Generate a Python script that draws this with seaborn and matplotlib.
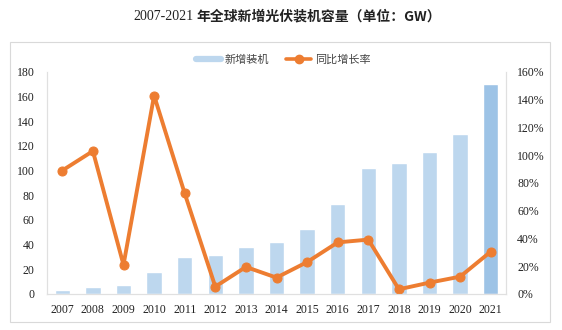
import numpy as np
import pandas as pd
import matplotlib
matplotlib.use("Agg")
import matplotlib.pyplot as plt
from matplotlib.lines import Line2D
from matplotlib.patches import Rectangle
import seaborn as sns

years = ["2007", "2008", "2009", "2010", "2011", "2012", "2013", "2014",
         "2015", "2016", "2017", "2018", "2019", "2020", "2021"]
new_capacity = [3, 6, 7, 17.5, 30, 31.5, 38, 42.5, 52.5, 73, 102, 106, 115, 130, 170]
yoy_growth = [89, 103, 21, 143, 72.5, 5.3, 19.5, 11.8, 23, 37.2, 39.2, 3.4, 8.2, 12.5, 30.5]
left_ticks = [0, 20, 40, 60, 80, 100, 120, 140, 160, 180]
right_ticks = [0, 20, 40, 60, 80, 100, 120, 140, 160]

title_num = "2007-2021"
title_cn = "年全球新增光伏装机容量（单位：GW）"
bar_label = "新增装机"
line_label = "同比增长率"

bar_color = "#BDD7EE"
bar_last = "#9DC3E6"
line_color = "#ED7D31"
serif = ["Liberation Serif", "Noto Sans CJK SC"]
cjk = ["Noto Sans CJK SC", "DejaVu Sans"]

sns.set_theme(style="white")
plt.rcParams["font.family"] = serif

df = pd.DataFrame({"year": years, "cap": new_capacity, "yoy": yoy_growth})
df["pos"] = np.arange(len(years))

fig = plt.figure(figsize=(5.62, 3.30), dpi=100)
fig.patches.append(Rectangle((10 / 562, 1 - 322 / 330), 540 / 562, 280 / 330,
                             transform=fig.transFigure, fill=False,
                             edgecolor="#D9D9D9", linewidth=0.8, zorder=0))
ax = fig.add_axes([47 / 562, 1 - 294 / 330, 459 / 562, 222 / 330])

palette = [bar_color] * (len(years) - 1) + [bar_last]
sns.barplot(data=df, x="year", y="cap", hue="year", palette=palette,
            width=0.5, legend=False, ax=ax, saturation=1)
ax.set_xlim(-0.5, len(years) - 0.5)
ax.set_ylim(0, 180)
ax.set_yticks(left_ticks)
ax.set_xlabel("")
ax.set_ylabel("")

ax2 = ax.twinx()
sns.lineplot(data=df, x="pos", y="yoy", ax=ax2, color=line_color, linewidth=2.8,
             marker="o", markersize=6.5, markeredgecolor=line_color)
ax2.set_ylim(0, 160)
ax2.set_yticks(right_ticks)
ax2.set_yticklabels([f"{t}%" for t in right_ticks])
ax2.set_xlim(-0.5, len(years) - 0.5)
ax2.set_xlabel("")
ax2.set_ylabel("")

for a in (ax, ax2):
    a.spines["top"].set_visible(False)
    for s in ("left", "right", "bottom"):
        a.spines[s].set_color("#E0E0E0")
        a.spines[s].set_linewidth(0.8)
    a.tick_params(length=0, labelsize=8.5, colors="#222222")
ax.tick_params(axis="y", pad=9)
ax.tick_params(axis="x", pad=7)
ax2.tick_params(axis="y", pad=8)
for lab in ax.get_xticklabels() + ax.get_yticklabels() + ax2.get_yticklabels():
    lab.set_family(serif)

fig.text(193 / 562, 1 - 16 / 330, title_num, ha="right", va="center", fontsize=10,
         family=serif, color="#222222")
fig.text(196 / 562, 1 - 16 / 330, title_cn, ha="left", va="center", fontsize=10,
         family=cjk, fontweight="bold", color="#222222")

handles = [Line2D([0], [0], color=bar_color, linewidth=4.5),
           Line2D([0], [0], color=line_color, linewidth=2.6, marker="o", markersize=6)]
fig.legend(handles, [bar_label, line_label], loc="center",
           bbox_to_anchor=(283 / 562, 1 - 60 / 330), ncol=2, frameon=False,
           prop={"family": cjk, "size": 8}, handlelength=2.3, columnspacing=1.5,
           handletextpad=0.3, labelcolor="#444444")

fig.savefig("out.png", dpi=100)
